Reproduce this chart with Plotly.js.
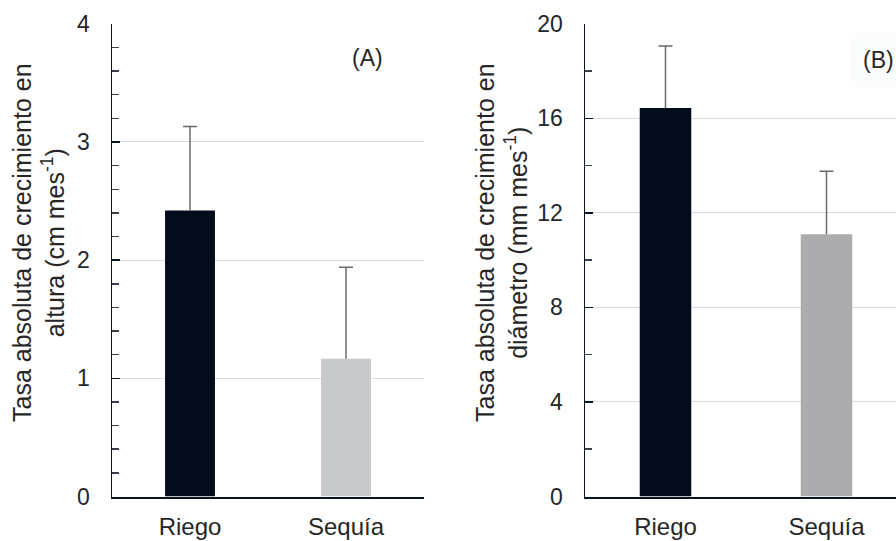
<!DOCTYPE html>
<html>
<head>
<meta charset="utf-8">
<script src="https://cdn.plot.ly/plotly-3.0.1.min.js"></script>
<style>html,body{margin:0;padding:0;background:#fff;}#chart{width:896px;height:541px;}</style>
</head>
<body>
<div id="chart"></div>
<script>
// Data
const categories = ["Riego", "Sequía"];
const alturaValues = [2.42, 1.165];
const alturaErrors = [0.71, 0.775];
const diametroValues = [16.44, 11.1];
const diametroErrors = [2.62, 2.66];
const alturaTicks = [0, 1, 2, 3, 4];
const diametroTicks = [0, 4, 8, 12, 16, 20];

const barColorsA = ["#020c1b", "#c8c9cd"];
const barColorsB = ["#020c1b", "#acacaf"];
const errColor = "#6a6a6a";
const errStyle = {type: "data", symmetric: false, arrayminus: [0, 0], color: errColor, thickness: 1.5, width: 0};

function capTrace(values, errors, xa, ya) {
  return {type: "scatter", mode: "markers", x: categories, y: values.map((v, i) => v + errors[i]),
    xaxis: xa, yaxis: ya, hoverinfo: "skip", showlegend: false,
    marker: {symbol: "line-ew", size: 10, color: errColor, line: {width: 1.5, color: errColor}}};
}

const traces = [
  {type: "bar", x: categories, y: alturaValues, xaxis: "x", yaxis: "y", width: 0.32,
   marker: {color: barColorsA}, error_y: Object.assign({}, errStyle, {array: alturaErrors}),
   hoverinfo: "x+y", showlegend: false},
  capTrace(alturaValues, alturaErrors, "x", "y"),
  {type: "bar", x: categories, y: diametroValues, xaxis: "x2", yaxis: "y2", width: 0.32,
   marker: {color: barColorsB}, error_y: Object.assign({}, errStyle, {array: diametroErrors}),
   hoverinfo: "x+y", showlegend: false},
  capTrace(diametroValues, diametroErrors, "x2", "y2")
];

const font = {family: "Liberation Sans, Arial, Helvetica, sans-serif", color: "#262626"};
const axisColor = "#0b1424";
const yDomain = [1 - 496.5/541, 1 - 23.8/541];

function yAxis(ticks, minorDtick) {
  return {
    domain: yDomain, range: [ticks[0], ticks[ticks.length-1]], tickvals: ticks,
    showgrid: true, gridcolor: "#d9dadb", gridwidth: 1, zeroline: false,
    showline: true, linecolor: axisColor, linewidth: 1.5,
    ticks: "inside", ticklen: 8, tickwidth: 1.5, tickcolor: axisColor,
    minor: {dtick: minorDtick, ticks: "inside", ticklen: 7, tickwidth: 1.5, tickcolor: "#3a3f4a", showgrid: false},
    tickfont: Object.assign({}, font, {size: 23}), ticklabelstandoff: 16, fixedrange: true
  };
}
function xAxis(domain, range, anchor) {
  return {
    domain: domain, range: range, anchor: anchor, type: "category",
    showgrid: false, zeroline: false, showline: true, linecolor: axisColor, linewidth: 2,
    ticks: "", tickfont: Object.assign({}, font, {size: 24}), ticklabelstandoff: 8, fixedrange: true
  };
}

const layout = {
  width: 896, height: 541,
  margin: {l: 0, r: 0, t: 0, b: 0},
  paper_bgcolor: "#ffffff", plot_bgcolor: "#ffffff",
  font: font,
  xaxis: xAxis([112/896, 424/896], [-0.5, 1.5], "y"),
  yaxis: Object.assign(yAxis(alturaTicks, 0.2), {anchor: "x"}),
  xaxis2: xAxis([585/896, 1], [-0.5, -0.5 + 311/161], "y2"),
  yaxis2: Object.assign(yAxis(diametroTicks, 2), {anchor: "x2"}),
  annotations: [
    {text: "Tasa absoluta de crecimiento en<br>altura (cm mes<sup>-1</sup>)", textangle: -90,
     xref: "paper", yref: "paper", x: 38/896, y: 1 - 243/541, xanchor: "center", yanchor: "middle",
     showarrow: false, font: Object.assign({}, font, {size: 25})},
    {text: "Tasa absoluta de crecimiento en<br>diámetro (mm mes<sup>-1</sup>)", textangle: -90,
     xref: "paper", yref: "paper", x: 501/896, y: 1 - 243/541, xanchor: "center", yanchor: "middle",
     showarrow: false, font: Object.assign({}, font, {size: 25})},
    {text: "(A)", xref: "paper", yref: "paper", x: 367/896, y: 1 - 58/541, xanchor: "center", yanchor: "middle",
     showarrow: false, font: Object.assign({}, font, {size: 23})},
    {text: "(B)", xref: "paper", yref: "paper", x: 849/896, y: 1 - 60/541, xanchor: "left", yanchor: "middle",
     showarrow: false, font: Object.assign({}, font, {size: 23}), bgcolor: "#fbfcfc", borderpad: 13}
  ]
};

Plotly.newPlot("chart", traces, layout, {displayModeBar: false, staticPlot: true});
</script>
</body>
</html>
